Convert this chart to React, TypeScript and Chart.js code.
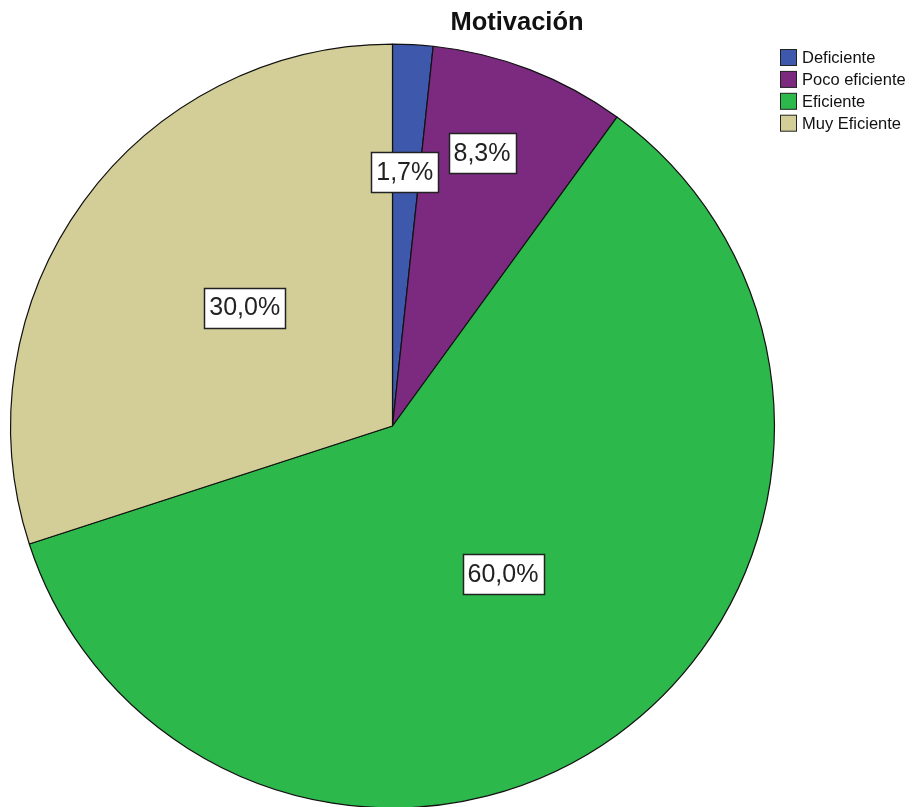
import React, { useEffect, useRef } from "react";
import { Chart, registerables } from "chart.js";

Chart.register(...registerables);

const categories = ["Deficiente", "Poco eficiente", "Eficiente", "Muy Eficiente"];
const percentages = [1.7, 8.3, 60.0, 30.0];
const sliceColors = ["#3E58AC", "#7B2A7F", "#2DB84B", "#D3CE97"];
const chartTitle = "Motivación";

// label placement: [radius fraction, angle shift in degrees]
const labelPlacement: [number, number][] = [
  [0.666, -0.3],
  [0.752, -2.9],
  [0.483, -0.8],
  [0.496, 2.7],
];

const fmt = (v: number) => v.toFixed(1).replace(".", ",") + "%";

const overlayPlugin = {
  id: "overlay",
  afterDatasetsDraw(chart: any) {
    const ctx = chart.ctx as CanvasRenderingContext2D;
    const meta = chart.getDatasetMeta(0);
    const data = chart.data.datasets[0].data as number[];
    ctx.save();
    // slice labels
    ctx.font = "25px 'Liberation Sans', Arial, sans-serif";
    ctx.textAlign = "center";
    ctx.textBaseline = "middle";
    meta.data.forEach((arc: any, i: number) => {
      const [rf, shift] = labelPlacement[i];
      const mid = (arc.startAngle + arc.endAngle) / 2 + (shift * Math.PI) / 180;
      const r = arc.outerRadius * rf;
      const x = arc.x + r * Math.cos(mid);
      const y = arc.y + r * Math.sin(mid);
      const txt = fmt(data[i]);
      const w = ctx.measureText(txt).width + 10;
      const h = 40;
      ctx.fillStyle = "#ffffff";
      ctx.fillRect(Math.round(x - w / 2) + 0.5, Math.round(y - h / 2) + 0.5, Math.round(w), h);
      ctx.strokeStyle = "#222222";
      ctx.lineWidth = 1.5;
      ctx.strokeRect(Math.round(x - w / 2) + 0.5, Math.round(y - h / 2) + 0.5, Math.round(w), h);
      ctx.fillStyle = "#222222";
      ctx.fillText(txt, x, y + 1);
    });
    ctx.restore();
  },
  afterDraw(chart: any) {
    const ctx = chart.ctx as CanvasRenderingContext2D;
    ctx.save();
    // title
    ctx.font = "bold 25.5px 'Liberation Sans', Arial, sans-serif";
    ctx.fillStyle = "#111111";
    ctx.textAlign = "center";
    ctx.textBaseline = "middle";
    ctx.fillText(chartTitle, 517, 23);
    // legend
    const labels = chart.data.labels as string[];
    const colors = chart.data.datasets[0].backgroundColor as string[];
    ctx.font = "16.5px 'Liberation Sans', Arial, sans-serif";
    ctx.textAlign = "left";
    labels.forEach((lab, i) => {
      const cy = 57.5 + i * 21.9;
      ctx.fillStyle = colors[i];
      ctx.fillRect(780.5, cy - 8, 16, 16);
      ctx.strokeStyle = "#222222";
      ctx.lineWidth = 1;
      ctx.strokeRect(780.5, cy - 8, 16, 16);
      ctx.fillStyle = "#111111";
      ctx.fillText(lab, 802, cy + 1);
    });
    ctx.restore();
  },
};

export default function App() {
  const ref = useRef<HTMLCanvasElement | null>(null);
  useEffect(() => {
    if (!ref.current) return;
    const chart = new Chart(ref.current, {
      type: "pie",
      data: {
        labels: categories,
        datasets: [
          {
            data: percentages,
            backgroundColor: sliceColors,
            borderColor: "#111111",
            borderWidth: 1.2,
          },
        ],
      },
      options: {
        animation: false,
        responsive: false,
        devicePixelRatio: 1,
        events: [],
        layout: { padding: { left: 10, right: 141, top: 43, bottom: 11 } },
        plugins: {
          legend: { display: false },
          title: { display: false },
          tooltip: { enabled: false },
        },
      },
      plugins: [overlayPlugin],
    });
    return () => chart.destroy();
  }, []);
  return (
    <div
      style={{
        position: "fixed",
        left: 0,
        top: 0,
        width: 916,
        height: 807,
        overflow: "hidden",
        background: "#fff",
      }}
    >
      <canvas ref={ref} width={916} height={820} style={{ display: "block" }} />
    </div>
  );
}
